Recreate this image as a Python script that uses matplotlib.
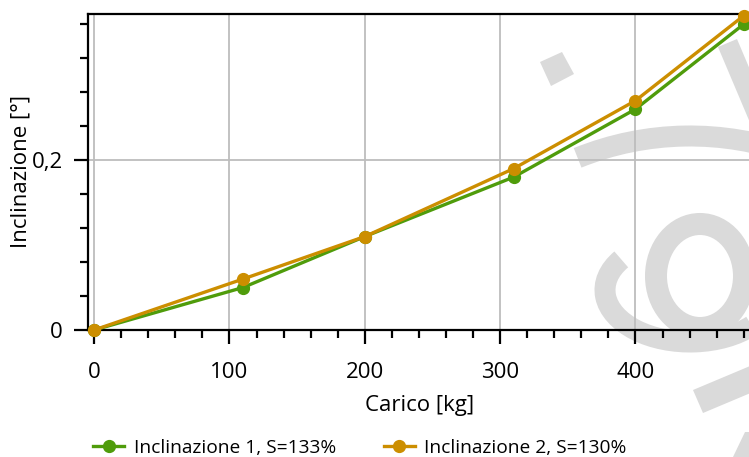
import matplotlib
matplotlib.use("Agg")
import matplotlib.pyplot as plt
from matplotlib.patches import Polygon, Arc, Ellipse
from matplotlib.ticker import MultipleLocator, FuncFormatter

# Data
carico = [0, 110, 200, 310, 400, 480]
incl_1 = [0.0, 0.05, 0.11, 0.18, 0.26, 0.36]
incl_2 = [0.0, 0.06, 0.11, 0.19, 0.27, 0.37]
label_1 = "Inclinazione 1, S=133%"
label_2 = "Inclinazione 2, S=130%"
x_label = "Carico [kg]"
y_label = "Inclinazione [°]"

W, H = 749, 457
plt.rcParams["font.family"] = ["Open Sans", "DejaVu Sans"]

fig = plt.figure(figsize=(W / 100, H / 100), dpi=100)
fig.patch.set_facecolor("white")

# Background logo layer, in pixel coordinates (y measured from the top)
bg = fig.add_axes([0, 0, 1, 1], zorder=0)
bg.set_xlim(0, W)
bg.set_ylim(H, 0)
bg.axis("off")
grey = "#dadada"
px = 72 / 100  # points per pixel

bg.add_patch(Polygon([(540, 62), (562, 52), (574, 74), (551, 86)], closed=True,
                     facecolor=grey, edgecolor="none"))
bg.add_patch(Polygon([(718, 47), (737, 39), (770, 117), (751, 125)], closed=True,
                     facecolor=grey, edgecolor="none"))
bg.add_patch(Polygon([(693, 390), (762, 361), (772, 384), (703, 413)], closed=True,
                     facecolor=grey, edgecolor="none"))
bg.add_patch(Polygon([(733, 457), (745, 432), (765, 432), (765, 457)], closed=True,
                     facecolor=grey, edgecolor="none"))
# arcs (y axis inverted, so angles run clockwise on screen)
bg.add_patch(Arc((690, 436), 2 * 300, 2 * 300, theta1=-112, theta2=-70,
                 color=grey, lw=21 * px))
bg.add_patch(Ellipse((700, 276), 2 * 44, 2 * 52, facecolor="none",
                     edgecolor=grey, lw=22 * px))
bg.add_patch(Arc((690, 290), 2 * 85, 2 * 52, theta1=30, theta2=204,
                 color=grey, lw=21 * px))

# Main chart
ax = fig.add_axes([88 / W, 127 / H, 1 - 88 / W + 0.002, (330 - 14) / H], zorder=1)
ax.patch.set_alpha(0)

green = "#4f9c0b"
orange = "#cc8e00"
ax.plot(carico, incl_1, color=green, lw=2.4, marker="o", ms=8.5,
        label=label_1, clip_on=False, zorder=3)
ax.plot(carico, incl_2, color=orange, lw=2.4, marker="o", ms=8.5,
        label=label_2, clip_on=False, zorder=4)

ax.set_xlim(-4.5, 485)
ax.set_ylim(0, 0.372)

ax.xaxis.set_major_locator(MultipleLocator(100))
ax.xaxis.set_minor_locator(MultipleLocator(20))
ax.yaxis.set_major_locator(MultipleLocator(0.2))
ax.yaxis.set_minor_locator(MultipleLocator(0.04))
ax.yaxis.set_major_formatter(FuncFormatter(lambda v, p: ("%g" % round(v, 3)).replace(".", ",")))

ax.grid(True, which="major", color="#bdbdbd", lw=1.3)
ax.set_axisbelow(True)

for s in ("left", "top", "bottom"):
    ax.spines[s].set_linewidth(1.6)
    ax.spines[s].set_color("black")
ax.spines["right"].set_visible(False)

ax.tick_params(which="major", direction="out", length=10, width=1.6,
               labelsize=16, pad=13)
ax.tick_params(which="minor", direction="out", length=5.5, width=1.6)
ax.tick_params(axis="y", which="major", pad=8)

ax.set_xlabel(x_label, fontsize=16, labelpad=9)
ax.set_ylabel(y_label, fontsize=16, labelpad=0.5)

fig.legend(loc="center", bbox_to_anchor=(360 / W, 9 / H), ncol=2, frameon=False,
           fontsize=13.8, handlelength=1.6, columnspacing=2.5, handletextpad=0.5,
           borderpad=0)

fig.savefig("out.png", dpi=100)
